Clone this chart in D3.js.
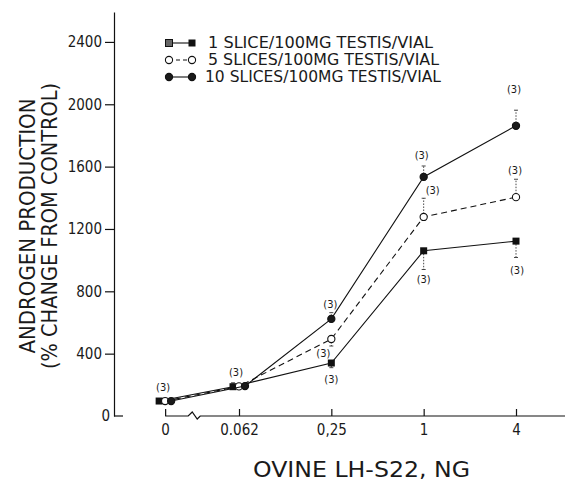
<!DOCTYPE html>
<meta charset="utf-8">
<head>
  <title>Androgen production</title>
  <script src="https://cdn.jsdelivr.net/npm/d3@7"></script>
  <style>
    body { margin: 0; background: #fff; }
    text { font-family: "DejaVu Sans Condensed", Roboto, "Liberation Sans", sans-serif; font-weight: 300; fill: #1a1a1a; }
    .axis path, .axis line { stroke: #111; stroke-width: 1.2; }
    .axis text { font-size: 15px; font-family: "DejaVu Sans Condensed", Roboto, "Liberation Sans", sans-serif; }
  </style>
</head>
<body>
<div id="chart"></div>
<script>
// doses of ovine LH-S22 (ng); 0 sits before the axis break
var doses = ["0", "0.062", "0,25", "1", "4"];
var dosePos = [-2.8, -2, -1, 0, 1];   // log4 of dose, control placed left of the break

var seriesNames = ["1 SLICE/100MG TESTIS/VIAL", "5 SLICES/100MG TESTIS/VIAL", "10 SLICES/100MG TESTIS/VIAL"];
var slice1  = [96, 188, 340, 1060, 1122];
var slice5  = [96, 190, 494, 1277, 1404];
var slice10 = [96, 192, 623, 1534, 1862];

// one sided error bars (+1 up, -1 down)
var err1  = [0, 25, 30, 120, 105];
var err5  = [0, 0, 45, 120, 115];
var err10 = [0, 0, 40, 70, 100];
var dir1  = [1, 1, -1, -1, -1];
var dir5  = [1, 1, -1, 1, 1];
var dir10 = [1, 1, 1, 1, 1];

var yTicks = [0, 400, 800, 1200, 1600, 2000, 2400];
var nLabel = "(3)";

var width = 565, height = 481;
var svg = d3.select("#chart").append("svg")
    .attr("width", width).attr("height", height);

var x = d3.scaleLinear().domain([-2, 1]).range([239, 516]);
var y = d3.scaleLinear().domain([0, 2592]).range([416, 12]);

// y axis
var yAxis = svg.append("g").attr("class", "axis")
    .attr("transform", "translate(114,0)")
    .call(d3.axisLeft(y).tickValues(yTicks).tickFormat(d3.format("d"))
        .tickSize(9).tickSizeOuter(0).tickPadding(3));
yAxis.selectAll(".tick").filter(function(d){ return d === 0; })
    .select("line").remove();
yAxis.selectAll(".tick").filter(function(d){ return d === 0; })
    .select("text").attr("x", -4);
// small foot at origin
svg.append("line").attr("x1", 114).attr("x2", 123).attr("y1", y(0)).attr("y2", y(0))
    .attr("stroke", "#111").attr("stroke-width", 1.2);

// x axis with break
var xAxis = svg.append("g").attr("class", "axis")
    .attr("transform", "translate(0," + y(0) + ")")
    .call(d3.axisBottom(x).tickValues(dosePos)
        .tickFormat(function(d, i){ return doses[i]; })
        .tickSize(-7).tickPadding(8));
xAxis.select(".domain").remove();
var bx = x(-2.55);
svg.append("path")
    .attr("d", "M" + x(-2.8) + "," + y(0) + "H" + bx + "l4,-4l5,7l3,-3H" + width)
    .attr("fill", "none").attr("stroke", "#111").attr("stroke-width", 1.2);

// axis titles
svg.append("text")
    .attr("transform", "translate(35,226) rotate(-90)")
    .attr("text-anchor", "middle")
    .attr("textLength", 255).attr("lengthAdjust", "spacingAndGlyphs")
    .style("font-size", "22px")
    .text("ANDROGEN  PRODUCTION");
svg.append("text")
    .attr("transform", "translate(57,226) rotate(-90)")
    .attr("text-anchor", "middle")
    .attr("textLength", 286).attr("lengthAdjust", "spacingAndGlyphs")
    .style("font-size", "22px")
    .text("(% CHANGE FROM  CONTROL)");
svg.append("text")
    .attr("x", 253).attr("y", 477)
    .attr("textLength", 217).attr("lengthAdjust", "spacingAndGlyphs")
    .style("font-size", "21px")
    .text("OVINE  LH-S22,  NG");

// series
var series = [
  {name: seriesNames[0], values: slice1,  err: err1,  dir: dir1,  dash: null,  mark: "square"},
  {name: seriesNames[1], values: slice5,  err: err5,  dir: dir5,  dash: "6,4", mark: "open"},
  {name: seriesNames[2], values: slice10, err: err10, dir: dir10, dash: null,  mark: "filled"}
];
var jitter = [-6, 0, 6];

function px(s, i) {
  return x(dosePos[i]) + (i < 2 ? jitter[s] : 0);
}

var line = d3.line();

series.forEach(function(s, si){
  var pts = s.values.map(function(v, i){ return [px(si, i), y(v)]; });

  // error bars
  s.err.forEach(function(e, i){
    if (!e) return;
    var x0 = px(si, i), y0 = y(s.values[i]), y1 = y(s.values[i] + s.dir[i]*e);
    svg.append("line").attr("x1", x0).attr("x2", x0).attr("y1", y0).attr("y2", y1)
      .attr("stroke", "#333").attr("stroke-width", 0.9).attr("stroke-dasharray", "1.5,1.5");
    svg.append("line").attr("x1", x0-2).attr("x2", x0+2).attr("y1", y1).attr("y2", y1)
      .attr("stroke", "#333").attr("stroke-width", 0.9);
  });

  svg.append("path").attr("d", line(pts))
    .attr("fill", "none").attr("stroke", "#111").attr("stroke-width", 1.1)
    .attr("stroke-dasharray", s.dash);

  drawMarks(svg, s.mark, pts);
});

function drawMarks(g, mark, pts) {
  if (mark === "square") {
    g.selectAll(null).data(pts).enter().append("rect")
      .attr("x", function(d){ return d[0]-3.5; }).attr("y", function(d){ return d[1]-3.5; })
      .attr("width", 7).attr("height", 7).attr("fill", "#111");
  } else {
    g.selectAll(null).data(pts).enter().append("circle")
      .attr("cx", function(d){ return d[0]; }).attr("cy", function(d){ return d[1]; })
      .attr("r", 3.6)
      .attr("fill", mark === "open" ? "#fff" : "#1a1a1a")
      .attr("stroke", "#111").attr("stroke-width", 1.1);
  }
}

// n labels: series index, dose index, offset from point
var nLabels = [
  [1, 0, -2, -14], [1, 1, -3, -14],
  [2, 2, -1, -15], [1, 2, -8, 14], [0, 2, 0, 16],
  [2, 3, -2, -22], [1, 3, 9, -27], [0, 3, 0, 28],
  [2, 4, -2, -37], [1, 4, -1, -27], [0, 4, 1, 29]
];
svg.selectAll(".nlab").data(nLabels).enter().append("text")
  .attr("class", "nlab")
  .attr("x", function(d){ return px(d[0], d[1]) + d[2]; })
  .attr("y", function(d){ return y(series[d[0]].values[d[1]]) + d[3]; })
  .attr("dy", "0.35em").attr("text-anchor", "middle")
  .style("font-size", "11px")
  .text(nLabel);

// legend
var legend = svg.append("g");
var rowY = [43, 60, 77];
var textLen = [225, 231, 236];
var textX = [208, 208, 205];
series.forEach(function(s, i){
  var ly = rowY[i];
  legend.append("line").attr("x1", 169).attr("x2", 192).attr("y1", ly).attr("y2", ly)
    .attr("stroke", "#111").attr("stroke-width", 1.1).attr("stroke-dasharray", s.dash ? "4,3" : null);
  drawMarks(legend, s.mark, [[169, ly], [192, ly]]);
  legend.append("text").attr("x", textX[i]).attr("y", ly).attr("dy", "0.36em")
    .attr("textLength", textLen[i]).attr("lengthAdjust", "spacingAndGlyphs")
    .style("font-size", "15px")
    .text(s.name);
});
legend.select("rect").attr("fill", "#666").attr("stroke", "#111");
</script>
</body>
</html>
